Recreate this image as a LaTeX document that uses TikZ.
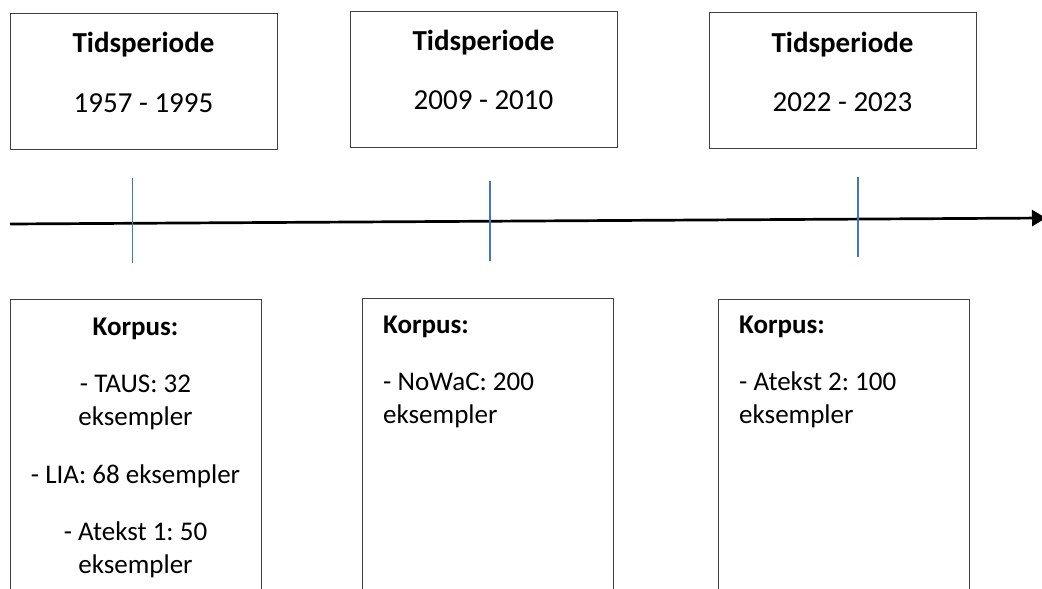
\documentclass[tikz,border=0pt]{standalone}
\usepackage{fontspec}
\setmainfont{Carlito}
\usetikzlibrary{arrows.meta}
\definecolor{tickblue}{HTML}{4472C4}
\definecolor{boxline}{HTML}{404040}
\frenchspacing
\begin{document}
\begin{tikzpicture}[x=1pt,y=-1pt,
  box/.style={draw=boxline,line width=1.2pt,inner sep=0pt,anchor=north west,minimum width=#1},
  ttxt/.style={anchor=base,inner sep=0pt,font=\fontsize{29}{35}\selectfont},
  tbtxt/.style={anchor=base,inner sep=0pt,font=\fontsize{29}{35}\selectfont\bfseries},
  txt/.style={anchor=base,inner sep=0pt,font=\fontsize{27}{33}\selectfont},
  ltxt/.style={anchor=base west,inner sep=0pt,font=\fontsize{27}{33}\selectfont},
  btxt/.style={anchor=base,inner sep=0pt,font=\fontsize{27}{33}\selectfont\bfseries},
  bltxt/.style={anchor=base west,inner sep=0pt,font=\fontsize{27}{33}\selectfont\bfseries},
  tickline/.style={draw=tickblue,line width=1.2pt},
  axis/.style={draw=black,line width=2.7pt,-{Triangle[length=14pt,width=16pt]}}]
\clip (0,0) rectangle (1042,589);
\fill[white] (0,0) rectangle (1042,589);
% top boxes
\node[box=267pt,minimum height=136pt] (t1) at (10,13) {};
\node[box=267pt,minimum height=136pt] (t2) at (350,11) {};
\node[box=267pt,minimum height=136pt] (t3) at (709,12) {};
\node[tbtxt] (t1h) at (143.5,52) {Tidsperiode};
\node[ttxt]  (t1d) at (143.5,112) {1957 - 1995};
\node[tbtxt] (t2h) at (483.5,50) {Tidsperiode};
\node[ttxt]  (t2d) at (483.5,109) {2009 - 2010};
\node[tbtxt] (t3h) at (842.5,52) {Tidsperiode};
\node[ttxt]  (t3d) at (842.5,111) {2022 - 2023};
% timeline
\coordinate (ls) at (10,224);
\coordinate (le) at (1046,218);
\draw[axis] (ls) -- (le);
\coordinate (k1a) at (132.7,178); \coordinate (k1b) at (132.7,263);
\coordinate (k2a) at (490,181); \coordinate (k2b) at (490,261);
\coordinate (k3a) at (858,177); \coordinate (k3b) at (858,257);
\draw[tickline] (k1a) -- (k1b);
\draw[tickline] (k2a) -- (k2b);
\draw[tickline] (k3a) -- (k3b);
% bottom boxes
\node[box=251pt,minimum height=340pt] (b1) at (10,299) {};
\node[box=251pt,minimum height=340pt] (b2) at (362,298) {};
\node[box=251pt,minimum height=340pt] (b3) at (718,299) {};
\node[btxt] (b1h) at (135.5,335) {Korpus:};
\node[txt] (b1l1) at (135.5,392) {- TAUS: 32};
\node[txt] (b1l2) at (135.5,425) {eksempler};
\node[txt] (b1l3) at (135.5,483) {- LIA: 68 eksempler};
\node[txt] (b1l4) at (135.5,540) {- Atekst 1: 50};
\node[txt] (b1l5) at (135.5,573) {eksempler};
\node[bltxt] (b2h) at (383,333) {Korpus:};
\node[ltxt] (b2l1) at (383,390) {- NoWaC: 200};
\node[ltxt] (b2l2) at (383,423) {eksempler};
\node[bltxt] (b3h) at (739,333) {Korpus:};
\node[ltxt] (b3l1) at (739,390) {- Atekst 2: 100};
\node[ltxt] (b3l2) at (739,423) {eksempler};
\end{tikzpicture}
\end{document}
